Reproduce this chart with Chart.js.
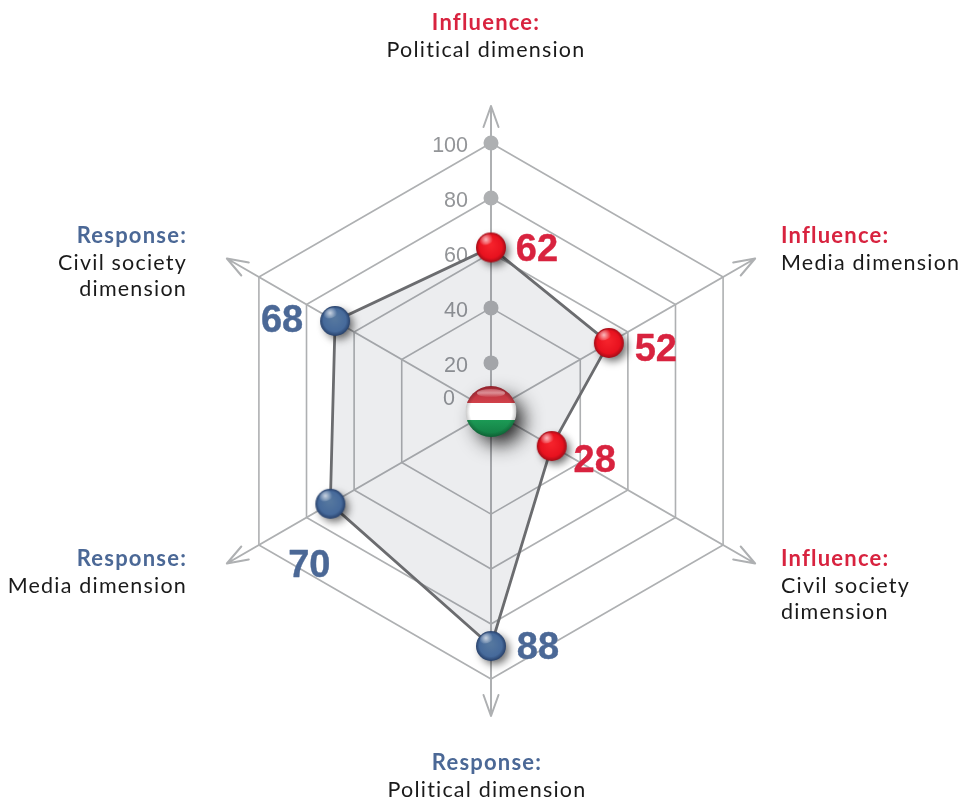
<!DOCTYPE html>
<html>
<head>
<meta charset="utf-8">
<title>Influence and response radar</title>
<script src="https://cdn.jsdelivr.net/npm/chart.js@4/dist/chart.umd.min.js"></script>
<style>
  html, body { margin: 0; padding: 0; background: #fff; }
  #wrap { position: relative; width: 968px; height: 802px; }
</style>
</head>
<body>
<div id="wrap"><canvas id="chart" width="968" height="802"></canvas></div>
<script>
const categories = [
  "Influence: Political dimension",
  "Influence: Media dimension",
  "Influence: Civil society dimension",
  "Response: Political dimension",
  "Response: Media dimension",
  "Response: Civil society dimension",
];
const values = [62, 52, 28, 88, 70, 68];
const tickValues = [20, 40, 60, 80, 100];
const tickLabels = ["20", "40", "60", "80", "100"];
const zeroLabel = "0";

const RED = "#d8233f";
const BLUE = "#4b6896";
const GREY = "#aeb0b2";

// ring 20 sits well off the centre, so the axis starts just above 0
const AXIS_MIN = 2.5;
const ARROW_EXTRA = 37;

// where the text goes, by hand
const valueOffsets = [[46, 3], [47, 8], [43, 15], [47, 3], [-21, 63], [-53, 1]];
const captionSpots = [
  { x: 486, y: 23, align: "center", head: "Influence:", lines: ["Political dimension"], color: RED },
  { x: 781, y: 236, align: "left", head: "Influence:", lines: ["Media dimension"], color: RED },
  { x: 781, y: 559, align: "left", head: "Influence:", lines: ["Civil society", "dimension"], color: RED },
  { x: 487, y: 763, align: "center", head: "Response:", lines: ["Political dimension"], color: BLUE },
  { x: 187, y: 559, align: "right", head: "Response:", lines: ["Media dimension"], color: BLUE },
  { x: 187, y: 236, align: "right", head: "Response:", lines: ["Civil society", "dimension"], color: BLUE },
];

function makeSphere(r, light, mid, dark) {
  const pad = 14;
  const c = document.createElement("canvas");
  c.width = c.height = (r + pad) * 2;
  const g = c.getContext("2d");
  const m = r + pad;
  g.save();
  g.shadowColor = "rgba(0,0,0,0.6)";
  g.shadowBlur = 9;
  g.shadowOffsetX = 4;
  g.shadowOffsetY = 4;
  g.fillStyle = dark;
  g.beginPath();
  g.arc(m, m, r - 1, 0, Math.PI * 2);
  g.fill();
  g.restore();
  const body = g.createRadialGradient(m - 1, m - 3, 2, m, m, r);
  body.addColorStop(0, light);
  body.addColorStop(0.72, mid);
  body.addColorStop(1, dark);
  g.fillStyle = body;
  g.beginPath();
  g.arc(m, m, r, 0, Math.PI * 2);
  g.fill();
  // glint
  const glint = g.createRadialGradient(m - 5, m - 8, 0, m - 5, m - 8, 7);
  glint.addColorStop(0, "rgba(255,255,255,0.7)");
  glint.addColorStop(1, "rgba(255,255,255,0)");
  g.fillStyle = glint;
  g.beginPath();
  g.ellipse(m - 4, m - 8, 8, 5, -0.4, 0, Math.PI * 2);
  g.fill();
  return c;
}

const redSphere = makeSphere(15, "#f5222b", "#e8121f", "#a30c17");
const blueSphere = makeSphere(15, "#55779f", "#466a9b", "#27406a");
const pointSpheres = values.map((v, i) => (i < 3 ? redSphere : blueSphere));

const extras = {
  id: "extras",
  beforeDatasetsDraw(chart) {
    const scale = chart.scales.r;
    const ctx = chart.ctx;
    ctx.save();
    ctx.strokeStyle = GREY;
    ctx.lineWidth = 2;
    ctx.lineCap = "round";
    ctx.lineJoin = "round";
    // axes run past the outer ring and end in an open arrow
    categories.forEach((c, i) => {
      const a = scale.getPointPosition(i, 0);
      const dist = scale.drawingArea + ARROW_EXTRA;
      const tip = scale.getPointPosition(i, dist);
      const left = scale.getPointPosition(i, dist - 21);
      const ang = Math.atan2(tip.y - a.y, tip.x - a.x);
      const nx = -Math.sin(ang) * 7.5;
      const ny = Math.cos(ang) * 7.5;
      ctx.beginPath();
      ctx.moveTo(a.x, a.y);
      ctx.lineTo(tip.x, tip.y);
      ctx.moveTo(left.x + nx, left.y + ny);
      ctx.lineTo(tip.x, tip.y);
      ctx.lineTo(left.x - nx, left.y - ny);
      ctx.stroke();
    });
    // dots and numbers on the top axis
    ctx.font = '21.5px "Liberation Sans"';
    ctx.textAlign = "right";
    ctx.textBaseline = "middle";
    tickValues.forEach((v, i) => {
      const p = scale.getPointPositionForValue(0, v);
      ctx.fillStyle = GREY;
      ctx.beginPath();
      ctx.arc(p.x, p.y, 7.5, 0, Math.PI * 2);
      ctx.fill();
      ctx.fillStyle = "#939598";
      ctx.fillText(tickLabels[i], p.x - 23, p.y + 3);
    });
    ctx.fillStyle = "#939598";
    ctx.fillText(zeroLabel, scale.xCenter - 36, scale.yCenter - 12);
    ctx.restore();
  },
  afterDatasetsDraw(chart) {
    const scale = chart.scales.r;
    const ctx = chart.ctx;
    const pts = chart.getDatasetMeta(0).data;
    ctx.save();
    // values
    ctx.font = 'bold 38px "Liberation Sans"';
    ctx.textAlign = "center";
    ctx.textBaseline = "middle";
    ctx.lineWidth = 0.4;
    ctx.lineJoin = "round";
    values.forEach((v, i) => {
      ctx.fillStyle = i < 3 ? RED : BLUE;
      ctx.strokeStyle = ctx.fillStyle;
      const x = pts[i].x + valueOffsets[i][0];
      const y = pts[i].y + valueOffsets[i][1];
      ctx.fillText(String(v), x, y);
      ctx.strokeText(String(v), x, y);
    });
    // captions
    ctx.textBaseline = "middle";
    captionSpots.forEach((s) => {
      ctx.textAlign = s.align;
      ctx.letterSpacing = "1.2px";
      ctx.font = 'bold 22px "Lato"';
      ctx.fillStyle = s.color;
      ctx.fillText(s.head, s.x, s.y);
      ctx.font = '21.5px "Lato"';
      ctx.fillStyle = "#1a1a1a";
      s.lines.forEach((t, k) => ctx.fillText(t, s.x, s.y + 27 + k * 26));
    });
    ctx.letterSpacing = "0px";
    drawFlag(ctx, scale.xCenter, scale.yCenter + 0.5, 25.5);
    ctx.restore();
  },
};

function drawFlag(ctx, x, y, r) {
  ctx.save();
  ctx.shadowColor = "rgba(0,0,0,0.9)";
  ctx.shadowBlur = 20;
  ctx.shadowOffsetX = 9;
  ctx.shadowOffsetY = 9;
  ctx.fillStyle = "#222";
  ctx.beginPath();
  ctx.arc(x, y, r - 2, 0, Math.PI * 2);
  ctx.fill();
  ctx.restore();

  ctx.save();
  ctx.beginPath();
  ctx.arc(x, y, r, 0, Math.PI * 2);
  ctx.clip();
  const top = ctx.createLinearGradient(0, y - r, 0, y - r / 3);
  top.addColorStop(0, "#b22a37");
  top.addColorStop(1, "#d1414a");
  ctx.fillStyle = top;
  ctx.fillRect(x - r, y - r, r * 2, r * 2 / 3);
  ctx.fillStyle = "#ffffff";
  ctx.fillRect(x - r, y - r / 3, r * 2, r * 2 / 3);
  const bot = ctx.createLinearGradient(0, y + r / 3, 0, y + r);
  bot.addColorStop(0, "#1c9a55");
  bot.addColorStop(1, "#127a42");
  ctx.fillStyle = bot;
  ctx.fillRect(x - r, y + r / 3, r * 2, r * 2 / 3);
  const edge = ctx.createRadialGradient(x, y, r * 0.82, x, y, r);
  edge.addColorStop(0, "rgba(0,0,0,0)");
  edge.addColorStop(1, "rgba(0,0,0,0.22)");
  ctx.fillStyle = edge;
  ctx.fillRect(x - r, y - r, r * 2, r * 2);
  const glint = ctx.createLinearGradient(0, y - r, 0, y - r * 0.55);
  glint.addColorStop(0, "rgba(255,255,255,0.05)");
  glint.addColorStop(0.6, "rgba(255,255,255,0.45)");
  glint.addColorStop(1, "rgba(255,255,255,0)");
  ctx.fillStyle = glint;
  ctx.beginPath();
  ctx.ellipse(x, y - r * 0.72, r * 0.55, r * 0.16, 0, 0, Math.PI * 2);
  ctx.fill();
  ctx.restore();
}

new Chart(document.getElementById("chart"), {
  type: "radar",
  data: {
    labels: categories,
    datasets: [
      {
        data: values,
        backgroundColor: "rgba(60,70,90,0.097)",
        borderColor: "#6b6c6f",
        borderWidth: 2.8,
        fill: true,
        tension: 0,
        pointStyle: pointSpheres,
        pointRadius: 15,
      },
    ],
  },
  options: {
    responsive: false,
    animation: false,
    layout: { padding: { left: 223, right: 209, top: 143, bottom: 123 } },
    plugins: { legend: { display: false }, tooltip: { enabled: false } },
    scales: {
      r: {
        min: AXIS_MIN,
        max: 100,
        afterBuildTicks(axis) {
          axis.ticks = tickValues.map((v) => ({ value: v }));
        },
        ticks: { display: false },
        pointLabels: { display: false },
        grid: { color: GREY, lineWidth: 1.6 },
        angleLines: { display: false },
      },
    },
  },
  plugins: [extras],
});
</script>
</body>
</html>
